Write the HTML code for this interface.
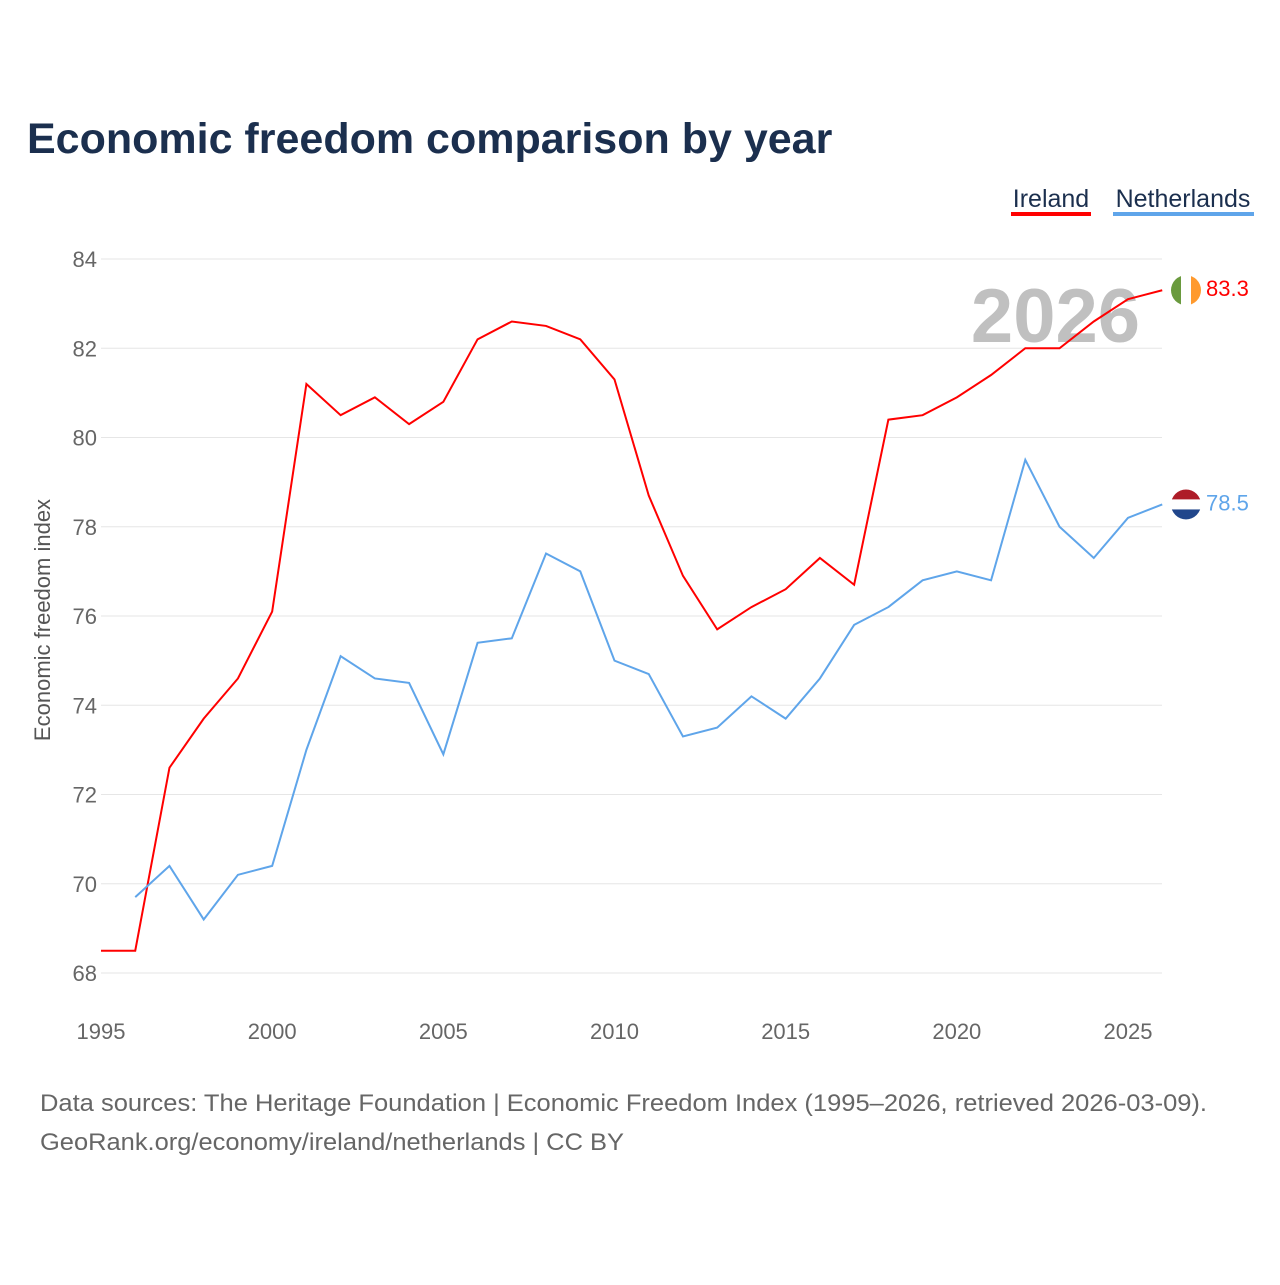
<!DOCTYPE html>
<html><head><meta charset="utf-8">
<style>
body{margin:0;background:#fff;width:1280px;height:1280px;overflow:hidden;font-family:"Liberation Sans",sans-serif;}
</style></head>
<body>
<svg id="chart" width="1280" height="1280" xmlns="http://www.w3.org/2000/svg">
<text x="27" y="153" font-size="43" font-weight="bold" fill="#1b2f4e">Economic freedom comparison by year</text>
<g>
<text x="1051" y="207" font-size="25" fill="#1b2f4e" text-anchor="middle">Ireland</text>
<rect x="1011" y="212" width="80" height="4" fill="#ff0000"/>
<text x="1183" y="207" font-size="25" fill="#1b2f4e" text-anchor="middle">Netherlands</text>
<rect x="1113" y="212" width="141" height="4" fill="#5fa5ea"/>
</g>
<text x="1140" y="342" font-size="76" font-weight="bold" fill="#c0c0c0" text-anchor="end">2026</text>
<g id="grid"></g>
<g id="series"></g>
<text transform="translate(50,620) rotate(-90)" font-size="22" fill="#555" text-anchor="middle">Economic freedom index</text>
<text x="40" y="1111" font-size="24" fill="#666" textLength="1167" lengthAdjust="spacingAndGlyphs">Data sources: The Heritage Foundation | Economic Freedom Index (1995–2026, retrieved 2026-03-09).</text>
<text x="40" y="1150" font-size="24" fill="#666" textLength="584" lengthAdjust="spacingAndGlyphs">GeoRank.org/economy/ireland/netherlands | CC BY</text>
</svg>
<script>
const years = [1995,1996,1997,1998,1999,2000,2001,2002,2003,2004,2005,2006,2007,2008,2009,2010,2011,2012,2013,2014,2015,2016,2017,2018,2019,2020,2021,2022,2023,2024,2025,2026];
const ireland = [68.5,68.5,72.6,73.7,74.6,76.1,81.2,80.5,80.9,80.3,80.8,82.2,82.6,82.5,82.2,81.3,78.7,76.9,75.7,76.2,76.6,77.3,76.7,80.4,80.5,80.9,81.4,82.0,82.0,82.6,83.1,83.3];
const netherlands = [null,69.7,70.4,69.2,70.2,70.4,73.0,75.1,74.6,74.5,72.9,75.4,75.5,77.4,77.0,75.0,74.7,73.3,73.5,74.2,73.7,74.6,75.8,76.2,76.8,77.0,76.8,79.5,78.0,77.3,78.2,78.5];
const yTicks = [68,70,72,74,76,78,80,82,84];
const xTicks = [1995,2000,2005,2010,2015,2020,2025];
const NS="http://www.w3.org/2000/svg";
function x(v){return 101+(v-1995)*(1128-101)/30;}
function y(v){return 973-(v-68)*(973-259)/16;}
function el(t,a,p){const e=document.createElementNS(NS,t);for(const k in a)e.setAttribute(k,a[k]);p.appendChild(e);return e;}
const grid=document.getElementById('grid'),ser=document.getElementById('series');
yTicks.forEach(t=>{
 const l=el('line',{x1:101,x2:1162,y1:y(t),y2:y(t),stroke:'#e6e6e6','stroke-width':1},grid);
 
 
 const tx=el('text',{x:97,y:y(t)+8,'font-size':22,fill:'#666','text-anchor':'end'},grid);
 tx.textContent=t;
 
 
});
xTicks.forEach(t=>{
 const tx=el('text',{x:x(t),y:1039,'font-size':22,fill:'#666','text-anchor':'middle'},grid);
 tx.textContent=t;
 
 
});
function draw(vals,color,name){
 let d='';vals.forEach((v,i)=>{if(v==null)return;d+=(d?'L':'M')+x(years[i])+','+y(v);});
 const p=el('path',{d:d,fill:'none',stroke:color,'stroke-width':2},ser);
 
 
 const last=vals[vals.length-1];
 const lx=x(years[years.length-1]),ly=y(last);
 const tx=el('text',{x:1206,y:ly+6,'font-size':22,fill:color},ser);
 tx.textContent=last.toFixed(1);
 
 
 return [lx,ly];
}
const [ix,iy]=draw(ireland,'#ff0000','ireland');
const [nx,ny]=draw(netherlands,'#5fa5ea','netherlands');
function flag(cx,cy,cols,vertical,name){
 const g=el('g',{},ser);
 
 
 const id='c'+name;
 const cp=el('clipPath',{id:id},g);el('circle',{cx:cx,cy:cy,r:15},cp);
 const w=30/3;
 cols.forEach((c,i)=>{
  if(vertical)el('rect',{x:cx-15+i*w,y:cy-15,width:w,height:30,fill:c,'clip-path':'url(#'+id+')'},g);
  else el('rect',{x:cx-15,y:cy-15+i*w,width:30,height:w,fill:c,'clip-path':'url(#'+id+')'},g);
 });
}
flag(1186,iy,['#6a9a3e','#ffffff','#ff9a2e'],true,'ireland-flag');
flag(1186,ny,['#ae1c28','#ffffff','#21468b'],false,'netherlands-flag');
</script>
</body></html>
